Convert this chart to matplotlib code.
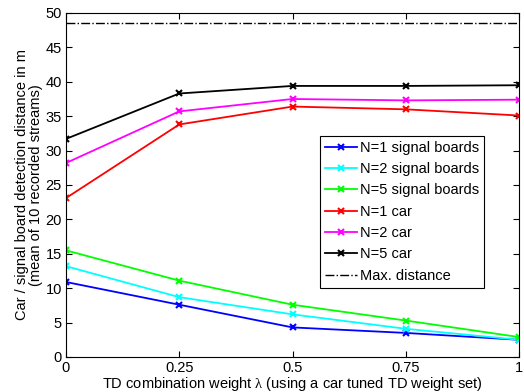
import matplotlib
matplotlib.use('Agg')
import matplotlib.pyplot as plt

plt.rcParams['font.family'] = ['Liberation Sans', 'DejaVu Sans']
plt.rcParams['mathtext.fontset'] = 'custom'
plt.rcParams['mathtext.rm'] = 'Liberation Serif'
plt.rcParams['mathtext.it'] = 'Liberation Serif'

# ------------------------- Datos -------------------------
lam = [0, 0.25, 0.5, 0.75, 1]
xticklabels = ['0', '0.25', '0.5', '0.75', '1']

sb_n1 = [10.9, 7.6, 4.3, 3.5, 2.5]
sb_n2 = [13.2, 8.7, 6.2, 4.1, 2.5]
sb_n5 = [15.5, 11.1, 7.6, 5.3, 2.9]
car_n1 = [23.1, 33.8, 36.4, 36.0, 35.1]
car_n2 = [28.2, 35.7, 37.5, 37.3, 37.4]
car_n5 = [31.7, 38.3, 39.4, 39.4, 39.5]
max_dist = 48.5

series = [
    ('N=1 signal boards', sb_n1, '#0000ff'),
    ('N=2 signal boards', sb_n2, '#00ffff'),
    ('N=5 signal boards', sb_n5, '#00ff00'),
    ('N=1 car', car_n1, '#ff0000'),
    ('N=2 car', car_n2, '#ff00ff'),
    ('N=5 car', car_n5, '#000000'),
]

# ------------------------- Gráfico -------------------------
fig = plt.figure(figsize=(5.24, 3.92), dpi=100)
ax = fig.add_axes([66 / 524, 35 / 392, 453 / 524, 344 / 392])

for label, vals, color in series:
    ax.plot(lam, vals, color=color, marker='x', markersize=5, markeredgewidth=1.5,
            linewidth=1.3, label=label)

ax.plot([lam[0], lam[-1]], [max_dist, max_dist], color='black', linestyle='-.',
        linewidth=1.0, label='Max. distance')

ax.set_xlim(0, 1)
ax.set_ylim(0, 50)
ax.set_xticks(lam)
ax.set_xticklabels(xticklabels)
ax.set_yticks(range(0, 51, 5))
ax.tick_params(direction='in', labelsize=10.5, top=True, right=True, length=4, pad=3)
for s in ax.spines.values():
    s.set_linewidth(0.8)

ax.set_xlabel(r'TD combination weight $\lambda$ (using a car tuned TD weight set)',
              fontsize=10.5, labelpad=0)
ax.set_ylabel('Car / signal board detection distance in m\n(mean of 10 recorded streams)',
              fontsize=10.5, labelpad=2, linespacing=1.0)

leg = ax.legend(loc='upper left', bbox_to_anchor=(0.56, 0.643), fontsize=10.5,
                fancybox=False, framealpha=1, edgecolor='black', borderpad=0.35,
                labelspacing=0.5, handlelength=2.2, handletextpad=0.2,
                borderaxespad=0)
leg.get_frame().set_linewidth(0.8)

fig.savefig('out.png', dpi=100)
